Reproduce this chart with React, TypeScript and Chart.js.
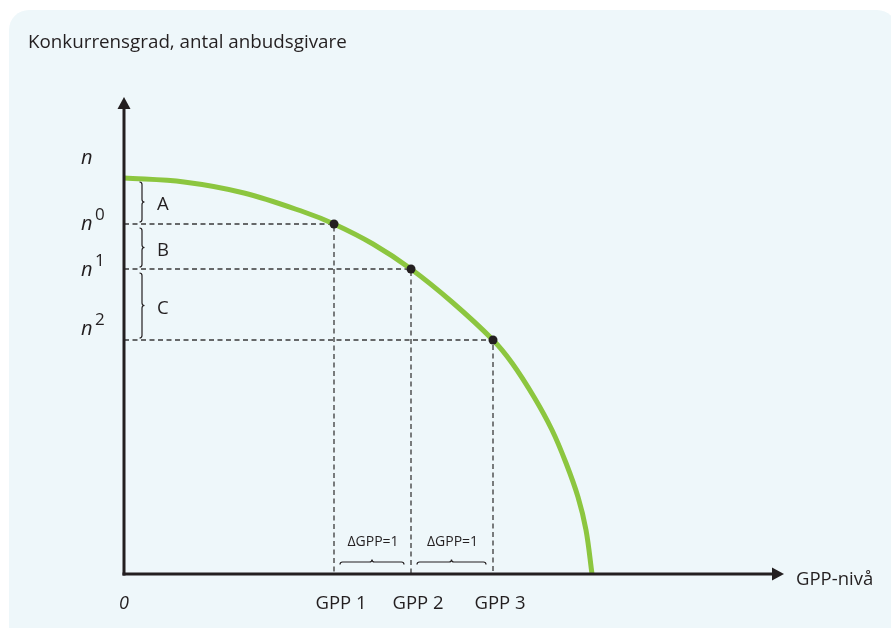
import React, { useEffect, useRef } from 'react';
import { Chart, registerables } from 'chart.js';

Chart.register(...registerables);

// ---- text ----
const TITLE = 'Konkurrensgrad, antal anbudsgivare';
const X_TITLE = 'GPP-nivå';
const ORIGIN_LABEL = '0';
const DELTA_LABEL = 'ΔGPP=1';

// ---- curve (x = GPP level, y = competition) ----
const curveX = [0, 60, 120, 180, 210, 249, 287, 328, 369, 388, 410, 428, 442, 454, 462, 468];
const curveY = [396, 392, 381, 362, 350, 330, 305, 272, 234, 211, 177, 144, 111, 77, 44, 0];

// ---- marked points ----
const pointLabels = ['GPP 1', 'GPP 2', 'GPP 3'];
const pointX = [210, 287, 369];
const pointY = [350, 305, 234];

// ---- y tick labels (n, n^0, n^1, n^2) ----
const levelBase = ['n', 'n', 'n', 'n'];
const levelSup = ['', '0', '1', '2'];
const levelLabelY = [410, 344, 298, 239];

// ---- brace labels ----
const braceLabels = ['A', 'B', 'C'];

// ---- axis extents ----
const X_MAX = 660;
const Y_MAX = 477;

const INK = '#231f20';
const FONT = '"Open Sans", "Noto Sans", sans-serif';

function vBrace(ctx: CanvasRenderingContext2D, x: number, top: number, bottom: number) {
  const mid = (top + bottom) / 2;
  const r = 2.5;
  ctx.beginPath();
  ctx.moveTo(x - r, top);
  ctx.quadraticCurveTo(x, top, x, top + r);
  ctx.lineTo(x, mid - r);
  ctx.quadraticCurveTo(x, mid, x + r, mid);
  ctx.quadraticCurveTo(x, mid, x, mid + r);
  ctx.lineTo(x, bottom - r);
  ctx.quadraticCurveTo(x, bottom, x - r, bottom);
  ctx.stroke();
}

function hBrace(ctx: CanvasRenderingContext2D, y: number, left: number, right: number) {
  const mid = (left + right) / 2;
  const r = 2.5;
  ctx.beginPath();
  ctx.moveTo(left, y + r);
  ctx.quadraticCurveTo(left, y, left + r, y);
  ctx.lineTo(mid - r, y);
  ctx.quadraticCurveTo(mid, y, mid, y - r);
  ctx.quadraticCurveTo(mid, y, mid + r, y);
  ctx.lineTo(right - r, y);
  ctx.quadraticCurveTo(right, y, right, y + r);
  ctx.stroke();
}

const overlay = {
  id: 'overlay',
  afterDatasetsDraw(chart: any) {
    const ctx: CanvasRenderingContext2D = chart.ctx;
    const xs = chart.scales.x;
    const ys = chart.scales.y;
    const px = (v: number) => xs.getPixelForValue(v);
    const py = (v: number) => ys.getPixelForValue(v);
    const x0 = px(0);
    const y0 = py(0);
    const yTip = py(Y_MAX);
    const xTip = px(X_MAX);
    ctx.save();

    // axes
    ctx.strokeStyle = INK;
    ctx.fillStyle = INK;
    ctx.lineWidth = 3;
    ctx.beginPath();
    ctx.moveTo(x0, y0 + 1.5);
    ctx.lineTo(x0, yTip + 10);
    ctx.stroke();
    ctx.beginPath();
    ctx.moveTo(x0 - 1.5, y0);
    ctx.lineTo(xTip - 10, y0);
    ctx.stroke();
    ctx.beginPath();
    ctx.moveTo(x0, yTip);
    ctx.lineTo(x0 - 6.5, yTip + 12);
    ctx.lineTo(x0 + 6.5, yTip + 12);
    ctx.closePath();
    ctx.fill();
    ctx.beginPath();
    ctx.moveTo(xTip, y0);
    ctx.lineTo(xTip - 12, y0 - 6.5);
    ctx.lineTo(xTip - 12, y0 + 6.5);
    ctx.closePath();
    ctx.fill();

    // title
    ctx.fillStyle = INK;
    ctx.textBaseline = 'alphabetic';
    ctx.textAlign = 'left';
    ctx.font = `18.8px ${FONT}`;
    ctx.fillText(TITLE, 28, 48);

    // x axis title
    ctx.font = `18.5px ${FONT}`;
    ctx.fillText(X_TITLE, xTip + 12, y0 + 11);

    // origin
    ctx.textAlign = 'center';
    ctx.font = `italic 18px ${FONT}`;
    ctx.fillText(ORIGIN_LABEL, x0, y0 + 35);

    // GPP labels
    ctx.font = `18.5px ${FONT}`;
    pointLabels.forEach((lab, i) => {
      ctx.fillText(lab, px(pointX[i]) + 7, y0 + 35);
    });

    // n labels
    levelBase.forEach((b, i) => {
      const yy = py(levelLabelY[i]);
      ctx.textAlign = 'left';
      ctx.font = `italic 20px ${FONT}`;
      ctx.fillText(b, x0 - 43, yy);
      if (levelSup[i]) {
        ctx.font = `17px ${FONT}`;
        ctx.fillText(levelSup[i], x0 - 29, yy - 10);
      }
    });

    // vertical braces with A, B, C
    const levels = [curveY[0], ...pointY];
    ctx.lineWidth = 1.2;
    ctx.strokeStyle = INK;
    braceLabels.forEach((lab, i) => {
      const top = py(levels[i]) + 4;
      const bottom = py(levels[i + 1]) - 2;
      vBrace(ctx, x0 + 18, top, bottom);
      ctx.font = `18.5px ${FONT}`;
      ctx.textAlign = 'left';
      ctx.textBaseline = 'middle';
      ctx.fillText(lab, x0 + 33, (top + bottom) / 2 + 3);
    });

    // horizontal braces with ΔGPP=1
    ctx.textBaseline = 'alphabetic';
    for (let i = 0; i < pointX.length - 1; i++) {
      const l = px(pointX[i]) + 6;
      const r = px(pointX[i + 1]) - 7;
      hBrace(ctx, y0 - 12, l, r);
      ctx.font = `14px ${FONT}`;
      ctx.textAlign = 'center';
      ctx.fillText(DELTA_LABEL, (l + r) / 2 + 1, y0 - 28);
    }

    ctx.restore();
  },
};

export default function App() {
  const ref = useRef<HTMLCanvasElement | null>(null);
  useEffect(() => {
    if (!ref.current) return;
    const guides = pointX.map((x, i) => ({
      data: [
        { x: 0, y: pointY[i] },
        { x, y: pointY[i] },
        { x, y: 0 },
      ],
      showLine: true,
      borderColor: '#3a3a3a',
      borderWidth: 1.3,
      borderDash: [5, 3.5],
      pointRadius: 0,
      tension: 0,
      order: 3,
    }));
    const chart = new Chart(ref.current, {
      type: 'scatter',
      data: {
        datasets: [
          {
            data: pointX.map((x, i) => ({ x, y: pointY[i] })),
            pointRadius: 4.5,
            pointBackgroundColor: INK,
            pointBorderWidth: 0,
            showLine: false,
            order: 0,
          },
          {
            data: curveX.map((x, i) => ({ x, y: curveY[i] })),
            showLine: true,
            borderColor: '#8cc63f',
            borderWidth: 5,
            pointRadius: 0,
            tension: 0.35,
            order: 1,
          },
          ...guides,
        ] as any,
      },
      options: {
        responsive: false,
        animation: false,
        devicePixelRatio: 1,
        layout: { padding: { left: 124, top: 97, right: 107, bottom: 54 } },
        scales: {
          x: { type: 'linear', min: 0, max: X_MAX, display: false },
          y: { type: 'linear', min: 0, max: Y_MAX, display: false },
        },
        plugins: { legend: { display: false }, tooltip: { enabled: false } },
        events: [],
      },
      plugins: [overlay],
    });
    return () => chart.destroy();
  }, []);

  return (
    <div style={{ position: 'absolute', left: 0, top: 0, width: 891, height: 628, overflow: 'hidden' }}>
      <div
        style={{
          position: 'absolute',
          left: 9,
          top: 10,
          width: 888,
          height: 640,
          borderRadius: 20,
          background: '#eef7fa',
        }}
      />
      <canvas ref={ref} width={891} height={628} style={{ position: 'absolute', left: 0, top: 0 }} />
    </div>
  );
}
